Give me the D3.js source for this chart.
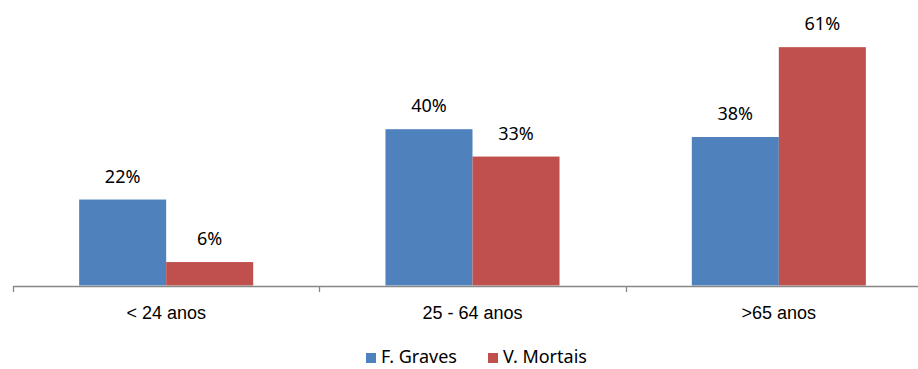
<!DOCTYPE html>
<html>
<head>
<meta charset="utf-8">
<script src="https://cdn.jsdelivr.net/npm/d3@7"></script>
<style>
  body { margin: 0; background: #fff; }
  svg { display: block; font-family: "Noto Sans", "Open Sans", sans-serif; }
</style>
</head>
<body>
<div id="chart"></div>
<script>
// chart data
let categories = ["< 24 anos", "25 - 64 anos", ">65 anos"];
let seriesNames = ["F. Graves", "V. Mortais"];
let graves = [22, 40, 38];
let mortais = [6, 33, 61];

let width = 918;
let height = 369;
let margin = ({top: 12, right: -14, bottom: 83, left: 13});
let colors = ["#4F81BD", "#C0504D"];

let rows = categories.map(function(c, i) {
  return {cat: c, values: [graves[i], mortais[i]]};
});

let svg = d3.select("#chart")
  .append("svg")
  .attr("width", width)
  .attr("height", height);

// category scale, plot runs past the right edge like the original
let x0 = d3.scaleBand()
  .domain(categories)
  .range([margin.left, width - margin.right])
  .paddingInner(0)
  .paddingOuter(0);

let x1 = d3.scaleBand()
  .domain([0, 1])
  .range([0, x0.bandwidth()])
  .paddingInner(0)
  .paddingOuter(0.76);

let y = d3.scaleLinear()
  .domain([0, 70])
  .range([height - margin.bottom - 0.5, margin.top]);

let baseY = y(0);

// bars
let groups = svg.selectAll(".grp")
  .data(rows)
  .enter()
  .append("g")
  .attr("class", "grp")
  .attr("transform", function(d) { return "translate(" + x0(d.cat) + ",0)"; });

groups.selectAll("rect")
  .data(function(d) { return d.values; })
  .enter()
  .append("rect")
  .attr("x", function(d, i) { return x1(i); })
  .attr("y", function(d) { return y(d); })
  .attr("width", x1.bandwidth())
  .attr("height", function(d) { return baseY - y(d); })
  .attr("fill", function(d, i) { return colors[i]; });

// value labels
groups.selectAll(".lbl")
  .data(function(d) { return d.values; })
  .enter()
  .append("text")
  .attr("class", "lbl")
  .attr("x", function(d, i) { return x1(i) + x1.bandwidth() / 2; })
  .attr("y", function(d) { return y(d) - 17; })
  .attr("text-anchor", "middle")
  .style("font-size", "18px")
  .style("fill", "#000")
  .text(function(d) { return d + "%"; });

// x axis
let xAxis = d3.axisBottom(x0)
  .tickSize(0)
  .tickFormat("");

let axisG = svg.append("g")
  .attr("transform", "translate(0," + (baseY + 0.5) + ")")
  .call(xAxis);
axisG.select(".domain").attr("stroke", "#868686").attr("stroke-width", 1.3);

// tick marks at band edges
let edges = categories.map(function(c) { return x0(c); }).concat([x0.range()[1]]);
axisG.selectAll(".edge")
  .data(edges)
  .enter()
  .append("line")
  .attr("class", "edge")
  .attr("x1", function(d) { return Math.round(d) + 0.5; })
  .attr("x2", function(d) { return Math.round(d) + 0.5; })
  .attr("y1", 0)
  .attr("y2", 6)
  .attr("stroke", "#868686")
  .attr("stroke-width", 1.3);

axisG.selectAll(".cat")
  .data(categories)
  .enter()
  .append("text")
  .attr("class", "cat")
  .attr("x", function(d) { return x0(d) + x0.bandwidth() / 2; })
  .attr("y", 33)
  .attr("text-anchor", "middle")
  .style("font-size", "18px")
  .style("fill", "#000")
  .text(function(d) { return d; });

// legend
let legendX = [366, 488];
let legend = svg.append("g");
legend.selectAll("rect")
  .data(seriesNames)
  .enter()
  .append("rect")
  .attr("x", function(d, i) { return legendX[i]; })
  .attr("y", 353)
  .attr("width", 10)
  .attr("height", 10)
  .attr("fill", function(d, i) { return colors[i]; });

legend.selectAll("text")
  .data(seriesNames)
  .enter()
  .append("text")
  .attr("x", function(d, i) { return legendX[i] + 15; })
  .attr("y", 363)
  .style("font-size", "18px")
  .style("fill", "#000")
  .text(function(d) { return d; });
</script>
</body>
</html>
